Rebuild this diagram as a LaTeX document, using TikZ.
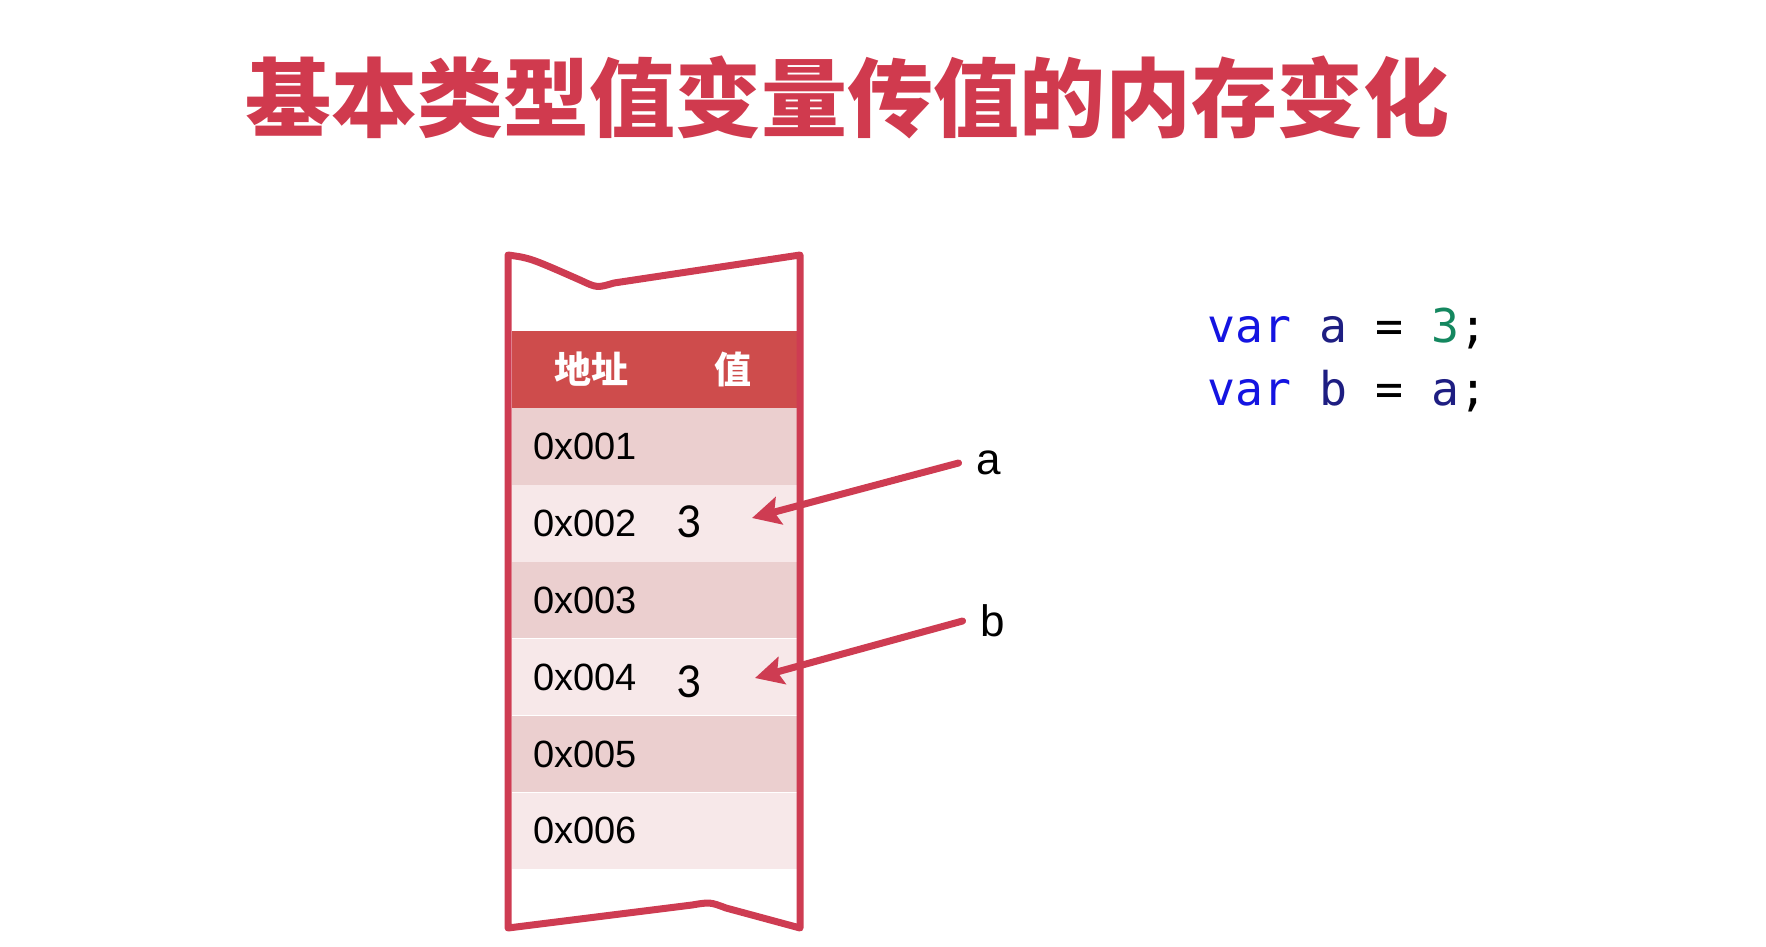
\documentclass[tikz,border=0pt]{standalone}
\usepackage{fontspec}
\setmainfont{Liberation Sans}
\setmonofont{DejaVu Sans Mono}
\newfontfamily\cjk{Noto Sans CJK SC}
\newfontfamily\numfont{Carlito}
\usepackage{tikz}
\usetikzlibrary{arrows.meta,positioning}

\definecolor{titlered}{RGB}{208,58,78}
\definecolor{framered}{RGB}{206,60,82}
\definecolor{headred}{RGB}{206,76,76}
\definecolor{rowdark}{RGB}{235,207,207}
\definecolor{rowlight}{RGB}{247,232,233}
\definecolor{kwblue}{RGB}{20,20,225}
\definecolor{idnavy}{RGB}{30,30,130}
\definecolor{numgreen}{RGB}{20,135,95}

\begin{document}
\begin{tikzpicture}[x=1pt,y=-1pt,node distance=0pt,
  row node/.style={rectangle,minimum width=285pt,minimum height=76.5pt,inner xsep=21pt,inner ysep=0pt,
    text width=243pt,align=left,font=\fontsize{38}{38}\selectfont},
  head text/.style={text=white,font=\cjk\bfseries\fontsize{37}{37}\selectfont},
  val node/.style={font=\numfont\fontsize{49}{49}\selectfont},
  var node/.style={inner sep=18pt,font=\fontsize{44}{44}\selectfont},
  code node/.style={anchor=base west,inner sep=0pt,font=\ttfamily\fontsize{46.5}{46.5}\selectfont},
  pointer/.style={-{Stealth[length=28pt,width=28pt,inset=5pt]},line width=7pt,draw=framered,line cap=round}]

  \useasboundingbox (0,0) rectangle (1766,947);

  % title
  \node[text=titlered,font=\cjk\bfseries\fontsize{86}{86}\selectfont] (title) at (847,97) {基本类型值变量传值的内存变化};

  % memory strip
  \node[row node,fill=headred] (head) at (654.5,369.5) {};
  \node[head text] (addr) at ([xshift=80pt]head.west) {地址};
  \node[head text] (val) at ([xshift=-64pt]head.east) {值};

  \node[row node,fill=rowdark] (r1) [below=of head] {0x001};
  \node[row node,fill=rowlight] (r2) [below=of r1] {0x002};
  \node[row node,fill=rowdark] (r3) [below=of r2] {0x003};
  \node[row node,fill=rowlight] (r4) [below=of r3] {0x004};
  \node[row node,fill=rowdark] (r5) [below=of r4] {0x005};
  \node[row node,fill=rowlight] (r6) [below=of r5] {0x006};

  \node[val node] (v2) at ([xshift=177pt,yshift=2pt]r2.west) {3};
  \node[val node] (v4) at ([xshift=177pt,yshift=-5pt]r4.west) {3};

  \draw[framered,line width=7pt,line join=round]
    (508,255) .. controls (530,258) .. (580,280) .. controls (597,288) .. (614,283) -- (800,255)
    -- (800,928) -- (726,908) .. controls (710,902) .. (692,905) -- (508,928) -- cycle;

  % variables
  \node[var node] (a) at (989,463) {a};
  \node[var node] (b) at (993,621) {b};
  \coordinate (ta) at (752,518);
  \coordinate (tb) at (755,678);

  \draw[pointer] (a.west) -- (ta);
  \draw[pointer] (b.west) -- (tb);

  % code
  \node[code node] (c1) at (1207,342) {\textcolor{kwblue}{var} \textcolor{idnavy}{a} = \textcolor{numgreen}{3};};
  \node[code node] (c2) at ([yshift=-63pt]c1.base west) {\textcolor{kwblue}{var} \textcolor{idnavy}{b} = \textcolor{idnavy}{a};};
\end{tikzpicture}
\end{document}
